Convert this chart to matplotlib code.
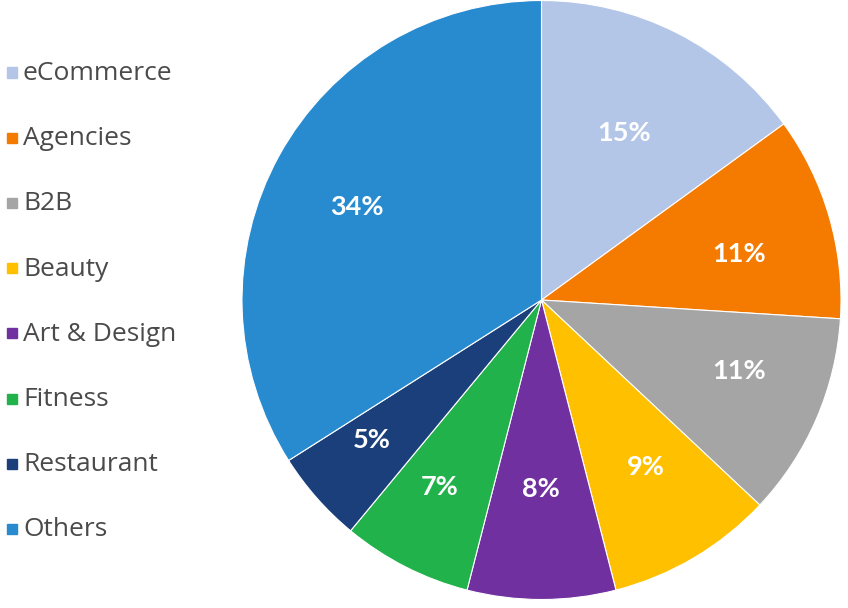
import matplotlib
matplotlib.use("Agg")
import matplotlib.pyplot as plt
import numpy as np
from matplotlib.patches import Rectangle

categories = ["eCommerce", "Agencies", "B2B", "Beauty", "Art & Design", "Fitness", "Restaurant", "Others"]
values = [15, 11, 11, 9, 8, 7, 5, 34]
colors = ["#B4C6E7", "#F47B00", "#A5A5A5", "#FFC000", "#7030A0", "#21B24B", "#1B3F7A", "#288BD0"]
# label placement (radius fraction, angle tweak in degrees)
label_dist = [0.622, 0.677, 0.70, 0.658, 0.631, 0.71, 0.734, 0.69]
label_dang = [0.7, -3.1, 3.6, 1.4, -0.2, -1.5, -1.8, 1.9]

W, H = 848, 608
fig = plt.figure(figsize=(W / 100, H / 100), dpi=100)
cx, cy, r = 541.5, 300, 299.5
ax = fig.add_axes([(cx - r) / W, (H - cy - r) / H, 2 * r / W, 2 * r / H])
wedges, _ = ax.pie(values, colors=colors, startangle=90, counterclock=False,
                   wedgeprops=dict(edgecolor="white", linewidth=0.8), radius=1)
ax.set_xlim(-1, 1)
ax.set_ylim(-1, 1)
ax.set_aspect("equal")
ax.axis("off")

for w, v, d, da in zip(wedges, values, label_dist, label_dang):
    ang = np.deg2rad((w.theta1 + w.theta2) / 2 + da)
    ax.text(d * np.cos(ang), d * np.sin(ang), f"{v}%", ha="center", va="center",
            color="white", fontsize=19.5, fontweight="bold", family="Lato")

y0, dy = 73.5, 65.2
for i, (c, col) in enumerate(zip(categories, colors)):
    y = y0 + i * dy
    fig.patches.append(Rectangle((7 / W, (H - y - 4) / H), 10 / W, 10 / H,
                                 transform=fig.transFigure, color=col))
    fig.text(23 / W, (H - y) / H, c, ha="left", va="center", fontsize=19,
             color="#4a4a4a", family="Open Sans")

fig.savefig("out.png", dpi=100)
